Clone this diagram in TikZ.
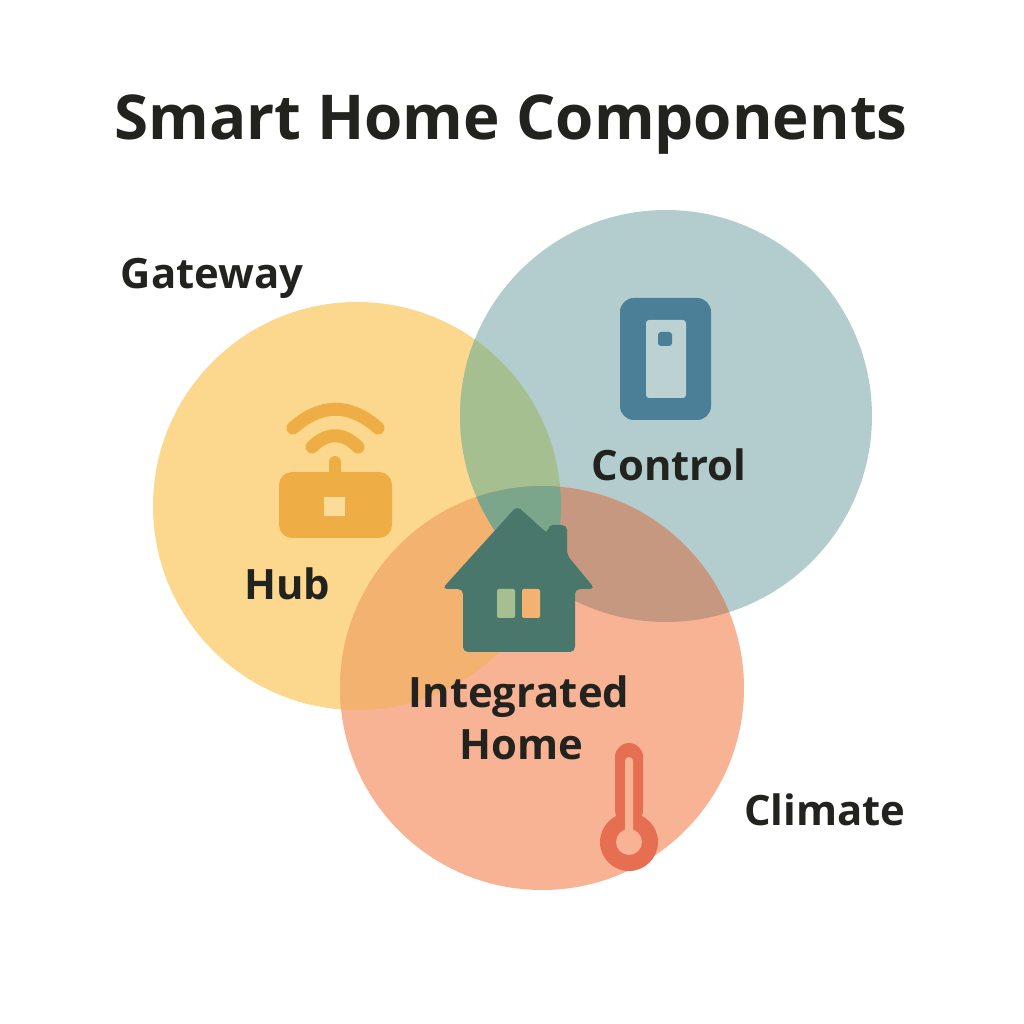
\documentclass[tikz,border=0pt]{standalone}
\usepackage{fontspec}
\setmainfont{Open Sans}
\definecolor{hubyellow}{HTML}{FBD88E}
\definecolor{ctrlblue}{HTML}{B3CCCD}
\definecolor{climorange}{HTML}{F8B394}
\definecolor{hubctrl}{HTML}{A5BF90}
\definecolor{hubclim}{HTML}{F3B26F}
\definecolor{ctrlclim}{HTML}{C79880}
\definecolor{allthree}{HTML}{7BA68B}
\definecolor{hubicon}{HTML}{EEAE45}
\definecolor{ctrlicon}{HTML}{4A7F97}
\definecolor{climicon}{HTML}{E56F50}
\definecolor{homeicon}{HTML}{4A776C}
\definecolor{inktext}{HTML}{22221E}
\tikzset{
    label text/.style={text=inktext, font=\bfseries\fontsize{11.9}{15}\selectfont, inner sep=0pt, align=center},
    wifi arc/.style={hubicon, line width=0.13cm, line cap=round}
}
\begin{document}
\begin{tikzpicture}
            \useasboundingbox (0, 0) rectangle (10.24, 10.24);
            \fill[white] (0, 0) rectangle (10.24, 10.24);

            % circles and overlaps
            \fill[hubyellow] (3.57, 5.18) circle (2.04);
            \fill[ctrlblue] (6.66, 6.08) circle (2.06);
            \fill[climorange] (5.42, 3.36) circle (2.02);
            \begin{scope}
                \clip (3.57, 5.18) circle (2.04);
                \fill[hubctrl] (6.66, 6.08) circle (2.06);
                \fill[hubclim] (5.42, 3.36) circle (2.02);
            \end{scope}
            \begin{scope}
                \clip (6.66, 6.08) circle (2.06);
                \fill[ctrlclim] (5.42, 3.36) circle (2.02);
                \clip (3.57, 5.18) circle (2.04);
                \fill[allthree] (5.42, 3.36) circle (2.02);
            \end{scope}

            % hub icon
            \draw[wifi arc] (2.93, 5.96) .. controls (3.21, 6.21) and (3.50, 6.21) .. (3.78, 5.96);
            \draw[wifi arc] (3.12, 5.77) .. controls (3.27, 5.92) and (3.43, 5.92) .. (3.58, 5.77);
            \fill[hubicon] (3.29, 5.4) rectangle (3.41, 5.62);
            \fill[hubicon] (3.35, 5.62) circle (0.06);
            \fill[hubicon, rounded corners=0.13cm] (2.79, 4.86) rectangle (3.92, 5.52);
            \fill[hubyellow!90!white] (3.24, 5.08) rectangle (3.45, 5.27);

            % control icon
            \fill[ctrlicon, rounded corners=0.14cm] (6.20, 6.04) rectangle (7.11, 7.26);
            \fill[ctrlblue!90!white, rounded corners=0.03cm] (6.46, 6.26) rectangle (6.86, 7.04);
            \fill[ctrlicon, rounded corners=0.03cm] (6.58, 6.78) rectangle (6.72, 6.92);

            % climate icon
            \fill[climicon] (6.29, 1.82) circle (0.29);
            \fill[climicon, rounded corners=0.14cm] (6.15, 2.0) rectangle (6.43, 2.81);
            \fill[climorange, rounded corners=0.04cm] (6.25, 1.85) rectangle (6.33, 2.67);
            \fill[climorange] (6.29, 1.82) circle (0.13);

            % home icon
            \fill[homeicon, rounded corners=0.05cm] (4.63, 3.72) -- (4.63, 4.35) -- (4.42, 4.35)
                -- (5.17, 5.18) -- (5.48, 4.90) -- (5.48, 4.99) -- (5.67, 4.99)
                -- (5.67, 4.69) -- (5.95, 4.35) -- (5.75, 4.35) -- (5.75, 3.72) -- cycle;
            \fill[hubctrl, rounded corners=0.02cm] (4.97, 4.06) rectangle (5.15, 4.35);
            \fill[hubclim, rounded corners=0.02cm] (5.22, 4.06) rectangle (5.40, 4.35);

            % labels
            \node[text=inktext, font=\bfseries\fontsize{17.6}{22}\selectfont, inner sep=0pt] (title) at (5.11, 8.99) {Smart Home Components};
            \node[label text] (gateway) at (2.12, 7.46) {Gateway};
            \node[label text] (control) at (6.69, 5.59) {Control};
            \node[label text] (hub) at (2.87, 4.40) {Hub};
            \node[label text] (integrated) at (5.19, 3.27) {Integrated};
            \node[label text] (home) at (5.21, 2.79) {Home};
            \node[label text] (climate) at (8.25, 2.14) {Climate};
        \end{tikzpicture}
\end{document}
